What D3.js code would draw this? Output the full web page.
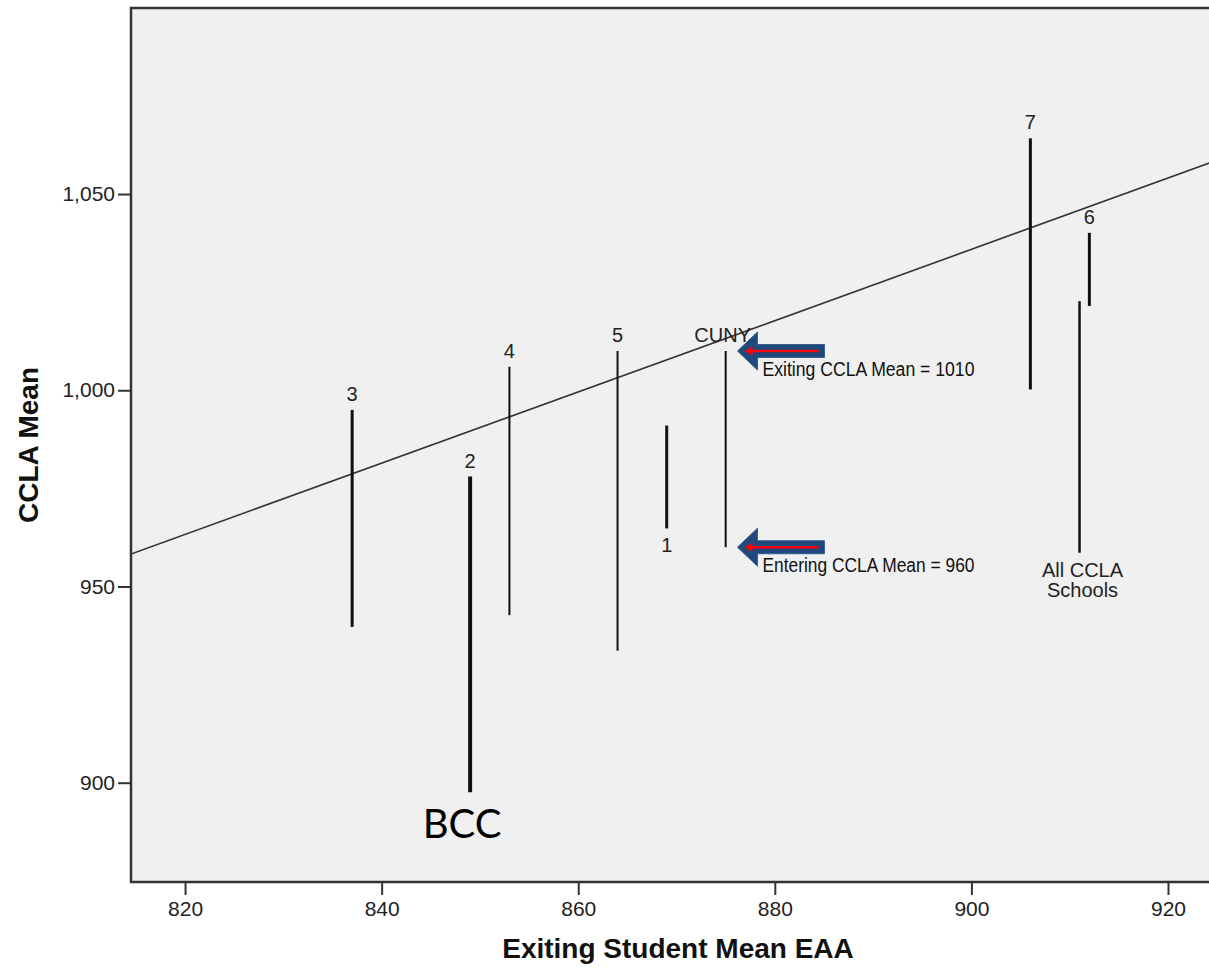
<!DOCTYPE html>
<html>
<head>
<meta charset="utf-8">
<script src="https://cdn.jsdelivr.net/npm/d3@7"></script>
<style>
  body { margin: 0; background: #fff; }
  svg { display: block; font-family: "Liberation Sans", Arial, sans-serif; }
  .axis path { display: none; }
  .axis line { stroke: #333; stroke-width: 2; }
  .axis text { font-size: 21px; fill: #222; }
</style>
</head>
<body>
<svg id="chart" width="1209" height="973"></svg>
<script>
// school ranges: exiting student mean EAA (x), entering -> exiting CCLA mean (y)
var schools     = ["3", "2", "4", "5", "1", "CUNY", "7", "6", "All CCLA Schools"];
var exitEAA     = [837, 849, 853, 864, 869, 875, 906, 912, 911];
var enterCCLA   = [939.7, 897.6, 942.7, 933.6, 964.8, 960, 1000.2, 1021.5, 958.6];
var exitCCLA    = [995, 978, 1006, 1010, 991, 1010, 1064.2, 1040.1, 1022.7];

var xTicks = [820, 840, 860, 880, 900, 920];
var yTicks = [900, 950, 1000, 1050];

// fit line
var fitIntercept = 218.7, fitSlope = 0.908;

// CUNY call-outs
var callouts = [
  {label: "Exiting CCLA Mean = 1010", x: 876.2, y: 1010},
  {label: "Entering CCLA Mean = 960", x: 876.2, y: 960}
];

var svg = d3.select("#chart"),
    margin = {top: 8, left: 131},
    width = 1094,
    height = 874;

var x = d3.scaleLinear().domain([814.5, 925.8]).range([0, width]);
var y = d3.scaleLinear().domain([874.7, 1097.4]).range([height, 0]);

var g = svg.append("g")
  .attr("transform", "translate(" + margin.left + "," + margin.top + ")");

svg.append("defs").append("clipPath").attr("id", "clip")
  .append("rect").attr("width", width).attr("height", height);

g.append("rect")
  .attr("width", width).attr("height", height)
  .attr("fill", "#f0f0f0");

// fit line
var x0 = x.domain()[0], x1 = x.domain()[1];
g.append("line")
  .attr("clip-path", "url(#clip)")
  .attr("x1", x(x0)).attr("y1", y(fitIntercept + fitSlope * x0))
  .attr("x2", x(x1)).attr("y2", y(fitIntercept + fitSlope * x1))
  .attr("stroke", "#333").attr("stroke-width", 1.6);

// range bars
var thick = {"2": 4, "3": 3, "1": 3, "7": 3, "6": 3, "All CCLA Schools": 2.5};
var rows = schools.map(function(s, i) {
  return {name: s, x: exitEAA[i], lo: enterCCLA[i], hi: exitCCLA[i]};
});

g.selectAll(".bar").data(rows).enter().append("line")
  .attr("class", "bar")
  .attr("x1", d => x(d.x)).attr("x2", d => x(d.x))
  .attr("y1", d => y(d.hi)).attr("y2", d => y(d.lo))
  .attr("stroke", "#111")
  .attr("stroke-width", d => thick[d.name] || 2);

var below = {"1": true, "All CCLA Schools": true};
g.selectAll(".lbl").data(rows).enter().append("text")
  .attr("class", "lbl")
  .attr("text-anchor", "middle")
  .attr("font-size", 20)
  .attr("fill", "#222")
  .attr("x", d => x(d.x) - (d.name === "CUNY" ? 3 : 0))
  .attr("y", d => below[d.name] ? y(d.lo) + 24 : y(d.hi) - 9)
  .each(function(d) {
    var t = d3.select(this);
    if (d.name === "All CCLA Schools") {
      t.append("tspan").attr("x", x(d.x) + 3).text("All CCLA");
      t.append("tspan").attr("x", x(d.x) + 3).attr("dy", 20).text("Schools");
    } else {
      t.text(d.name);
    }
  });

// border + axes
g.append("path")
  .attr("d", "M" + width + ",0H0V" + height + "H" + width)
  .attr("fill", "none").attr("stroke", "#333").attr("stroke-width", 2.5);

g.append("g")
  .attr("class", "axis axis--y")
  .call(d3.axisLeft(y).tickValues(yTicks).tickFormat(d3.format(",")).tickSize(13).tickPadding(3));

g.append("g")
  .attr("class", "axis axis--x")
  .attr("transform", "translate(0," + height + ")")
  .call(d3.axisBottom(x).tickValues(xTicks).tickSize(13).tickPadding(6));

// axis titles
svg.append("text")
  .attr("transform", "translate(28," + (margin.top + height / 2) + ") rotate(-90)")
  .attr("text-anchor", "middle").attr("dominant-baseline", "central")
  .attr("font-size", 28).attr("font-weight", "bold").attr("fill", "#111")
  .text("CCLA Mean");

svg.append("text")
  .attr("x", margin.left + width / 2).attr("y", 958)
  .attr("text-anchor", "middle")
  .attr("font-size", 28).attr("font-weight", "bold").attr("fill", "#111")
  .text("Exiting Student Mean EAA");

// call-out arrows
var arrows = g.selectAll(".callout").data(callouts).enter().append("g")
  .attr("class", "callout")
  .attr("transform", d => "translate(" + x(d.x) + "," + y(d.y) + ")");

arrows.append("path")
  .attr("d", "M0,0L20,-19V-6.5H87V6.5H20V19Z")
  .attr("fill", "#1f497d").attr("stroke", "#385d8a").attr("stroke-width", 1);
arrows.append("line")
  .attr("x1", 12).attr("x2", 81).attr("y1", 0).attr("y2", 0)
  .attr("stroke", "#ff0000").attr("stroke-width", 2.5);
arrows.append("path")
  .attr("d", "M7,0L15,-4.5V4.5Z").attr("fill", "#ff0000");
arrows.append("text")
  .attr("x", 25).attr("y", 25)
  .attr("font-size", 20).attr("fill", "#111")
  .attr("textLength", 212).attr("lengthAdjust", "spacingAndGlyphs")
  .text(d => d.label);

// BCC note under school 2
svg.append("text")
  .attr("x", margin.left + x(exitEAA[1]) - 8)
  .attr("y", 838)
  .attr("text-anchor", "middle")
  .attr("font-family", "Lato, 'Open Sans', sans-serif")
  .attr("font-size", 40).attr("fill", "#000")
  .text("BCC");
</script>
</body>
</html>
